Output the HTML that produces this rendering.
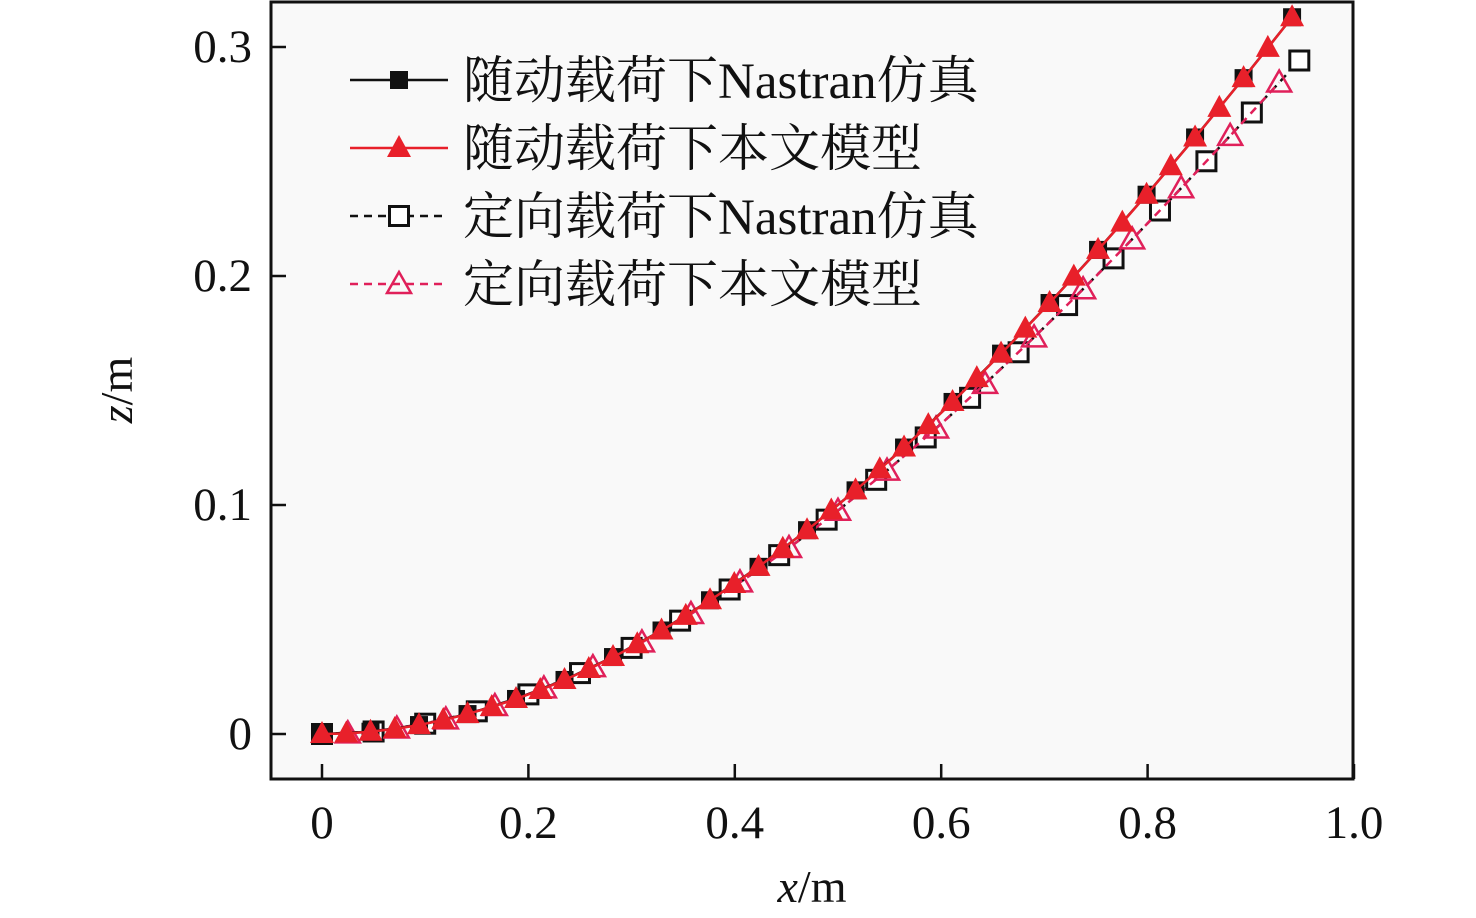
<!DOCTYPE html>
<html><head><meta charset="utf-8"><style>
html,body{margin:0;padding:0;background:#fff}
svg{display:block}
text{font-family:"Liberation Serif","Noto Serif CJK SC",serif;fill:#111}
</style></head><body>
<svg id="chart" width="1476" height="918" viewBox="0 0 1476 918" xmlns="http://www.w3.org/2000/svg">
<rect x="0" y="0" width="1476" height="918" fill="#fff"/>
<rect x="271" y="2" width="1082" height="777" fill="#f9f9f9" stroke="#111" stroke-width="3"/>
<g id="axes"></g>
<g id="series"></g>
<g id="legend"></g>
<text x="812" y="902" font-size="46" text-anchor="middle"><tspan font-style="italic">x</tspan>/m</text>
<text transform="translate(132,390) rotate(-90)" font-size="46" text-anchor="middle"><tspan font-style="italic">z</tspan>/m</text>
</svg>
<script>
const xTicks=[0,0.2,0.4,0.6,0.8,1.0];
const xTickLabels=["0","0.2","0.4","0.6","0.8","1.0"];
const yTicks=[0,0.1,0.2,0.3];
const yTickLabels=["0","0.1","0.2","0.3"];
const followNasX=[0,0.047,0.094,0.141,0.188,0.235,0.282,0.329,0.376,0.423,0.47,0.517,0.564,0.611,0.658,0.705,0.752,0.799,0.846,0.893,0.94];
const followNasZ=[0,0.001,0.0039,0.0087,0.0153,0.0236,0.0336,0.0452,0.0584,0.0730,0.0890,0.1064,0.1251,0.1450,0.1661,0.1882,0.2114,0.2355,0.2605,0.2864,0.3130];
const followModX=[0,0.0235,0.047,0.0705,0.094,0.1175,0.141,0.1645,0.188,0.2115,0.235,0.2585,0.282,0.3055,0.329,0.3525,0.376,0.3995,0.423,0.4465,0.47,0.4935,0.517,0.5405,0.564,0.5875,0.611,0.6345,0.658,0.6815,0.705,0.7285,0.752,0.7755,0.799,0.8225,0.846,0.8695,0.893,0.9165,0.94];
const followModZ=[0,0.0002,0.001,0.0022,0.0039,0.0061,0.0087,0.0118,0.0153,0.0192,0.0236,0.0284,0.0336,0.0392,0.0452,0.0516,0.0584,0.0655,0.0730,0.0809,0.0890,0.0976,0.1064,0.1156,0.1251,0.1349,0.1450,0.1554,0.1661,0.1770,0.1882,0.1997,0.2114,0.2233,0.2355,0.2479,0.2605,0.2734,0.2864,0.2996,0.3130];
const fixedNasX=[0,0.05,0.1,0.15,0.2,0.25,0.3,0.347,0.395,0.443,0.489,0.537,0.585,0.628,0.675,0.722,0.767,0.812,0.857,0.901,0.947];
const fixedNasZ=[0,0.0011,0.0045,0.0099,0.0173,0.0266,0.0376,0.0495,0.0631,0.0781,0.0936,0.1110,0.1295,0.1468,0.1667,0.1873,0.2077,0.2286,0.2501,0.2714,0.2941];
const fixedModX=[0.025,0.0725,0.12,0.1675,0.215,0.2625,0.31,0.3575,0.405,0.4525,0.5,0.5475,0.595,0.6425,0.69,0.7375,0.785,0.8325,0.88,0.9275];
const fixedModZ=[0.0003,0.0024,0.0064,0.0122,0.0199,0.0292,0.0400,0.0524,0.0662,0.0812,0.0975,0.1150,0.1334,0.1529,0.1732,0.1942,0.2160,0.2383,0.2612,0.2845];
const legendLabels=["随动载荷下Nastran仿真","随动载荷下本文模型","定向载荷下Nastran仿真","定向载荷下本文模型"];

const NS="http://www.w3.org/2000/svg";
const X=v=>322+v*1032;
const Y=v=>734-v*2290;
function mk(tag,attrs,parent){const e=document.createElementNS(NS,tag);for(const k in attrs)e.setAttribute(k,attrs[k]);parent.appendChild(e);return e;}
const axes=document.getElementById('axes'),series=document.getElementById('series'),legend=document.getElementById('legend');
xTicks.forEach((t,i)=>{
  const l=mk('line',{x1:X(t),x2:X(t),y1:779,y2:764,stroke:'#111','stroke-width':2.5},axes);
  
  
  const tx=mk('text',{x:X(t),y:838,'font-size':47,'text-anchor':'middle'},axes);tx.textContent=xTickLabels[i];
  
  
});
yTicks.forEach((t,i)=>{
  const l=mk('line',{x1:271,x2:286,y1:Y(t),y2:Y(t),stroke:'#111','stroke-width':2.5},axes);
  
  
  const tx=mk('text',{x:252,y:Y(t)+15,'font-size':47,'text-anchor':'end'},axes);tx.textContent=yTickLabels[i];
  
  
});
function marker(type,cx,cy,g){
  if(type==='fsq')return mk('rect',{x:cx-9,y:cy-9,width:18,height:18,fill:'#111'},g);
  if(type==='osq')return mk('rect',{x:cx-9.5,y:cy-9.5,width:19,height:19,fill:'#fff',stroke:'#111','stroke-width':3},g);
  if(type==='ftri')return mk('polygon',{points:`${cx},${cy-13} ${cx-12},${cy+9} ${cx+12},${cy+9}`,fill:'#e8202a'},g);
  return mk('polygon',{points:`${cx},${cy-12} ${cx-12},${cy+9} ${cx+12},${cy+9}`,fill:'none',stroke:'#e0205a','stroke-width':2.5},g);
}
const defs=[
 {xs:fixedNasX,zs:fixedNasZ,color:'#111',dash:'8,6',m:'osq',name:'series-fixed-nastran'},
 {xs:fixedModX,zs:fixedModZ,color:'#e0205a',dash:'8,6',m:'otri',name:'series-fixed-model'},
 {xs:followNasX,zs:followNasZ,color:'#111',dash:'',m:'fsq',name:'series-follower-nastran'},
 {xs:followModX,zs:followModZ,color:'#e8202a',dash:'',m:'ftri',name:'series-follower-model'}
];
defs.forEach(d=>{
  const g=mk('g',{},series);
  
  
  const pts=d.xs.map((x,i)=>X(x)+','+Y(d.zs[i])).join(' ');
  const pl=mk('polyline',{points:pts,fill:'none',stroke:d.color,'stroke-width':2.5,'stroke-dasharray':d.dash},g);
  
  
  d.xs.forEach((x,i)=>{const m=marker(d.m,X(x),Y(d.zs[i]),g);
    
    });
});
const lg=[{c:'#111',d:'',m:'fsq'},{c:'#e8202a',d:'',m:'ftri'},{c:'#111',d:'8,6',m:'osq'},{c:'#e0205a',d:'8,6',m:'otri'}];
lg.forEach((s,i)=>{
  const y=80+i*68;
  const g=mk('g',{},legend);
  
  
  mk('line',{x1:350,x2:448,y1:y,y2:y,stroke:s.c,'stroke-width':2.5,'stroke-dasharray':s.d},g);
  marker(s.m,399,y,g);
  const t=mk('text',{x:463,y:y+18,'font-size':51},g);t.textContent=legendLabels[i];
});
</script>
</body></html>
